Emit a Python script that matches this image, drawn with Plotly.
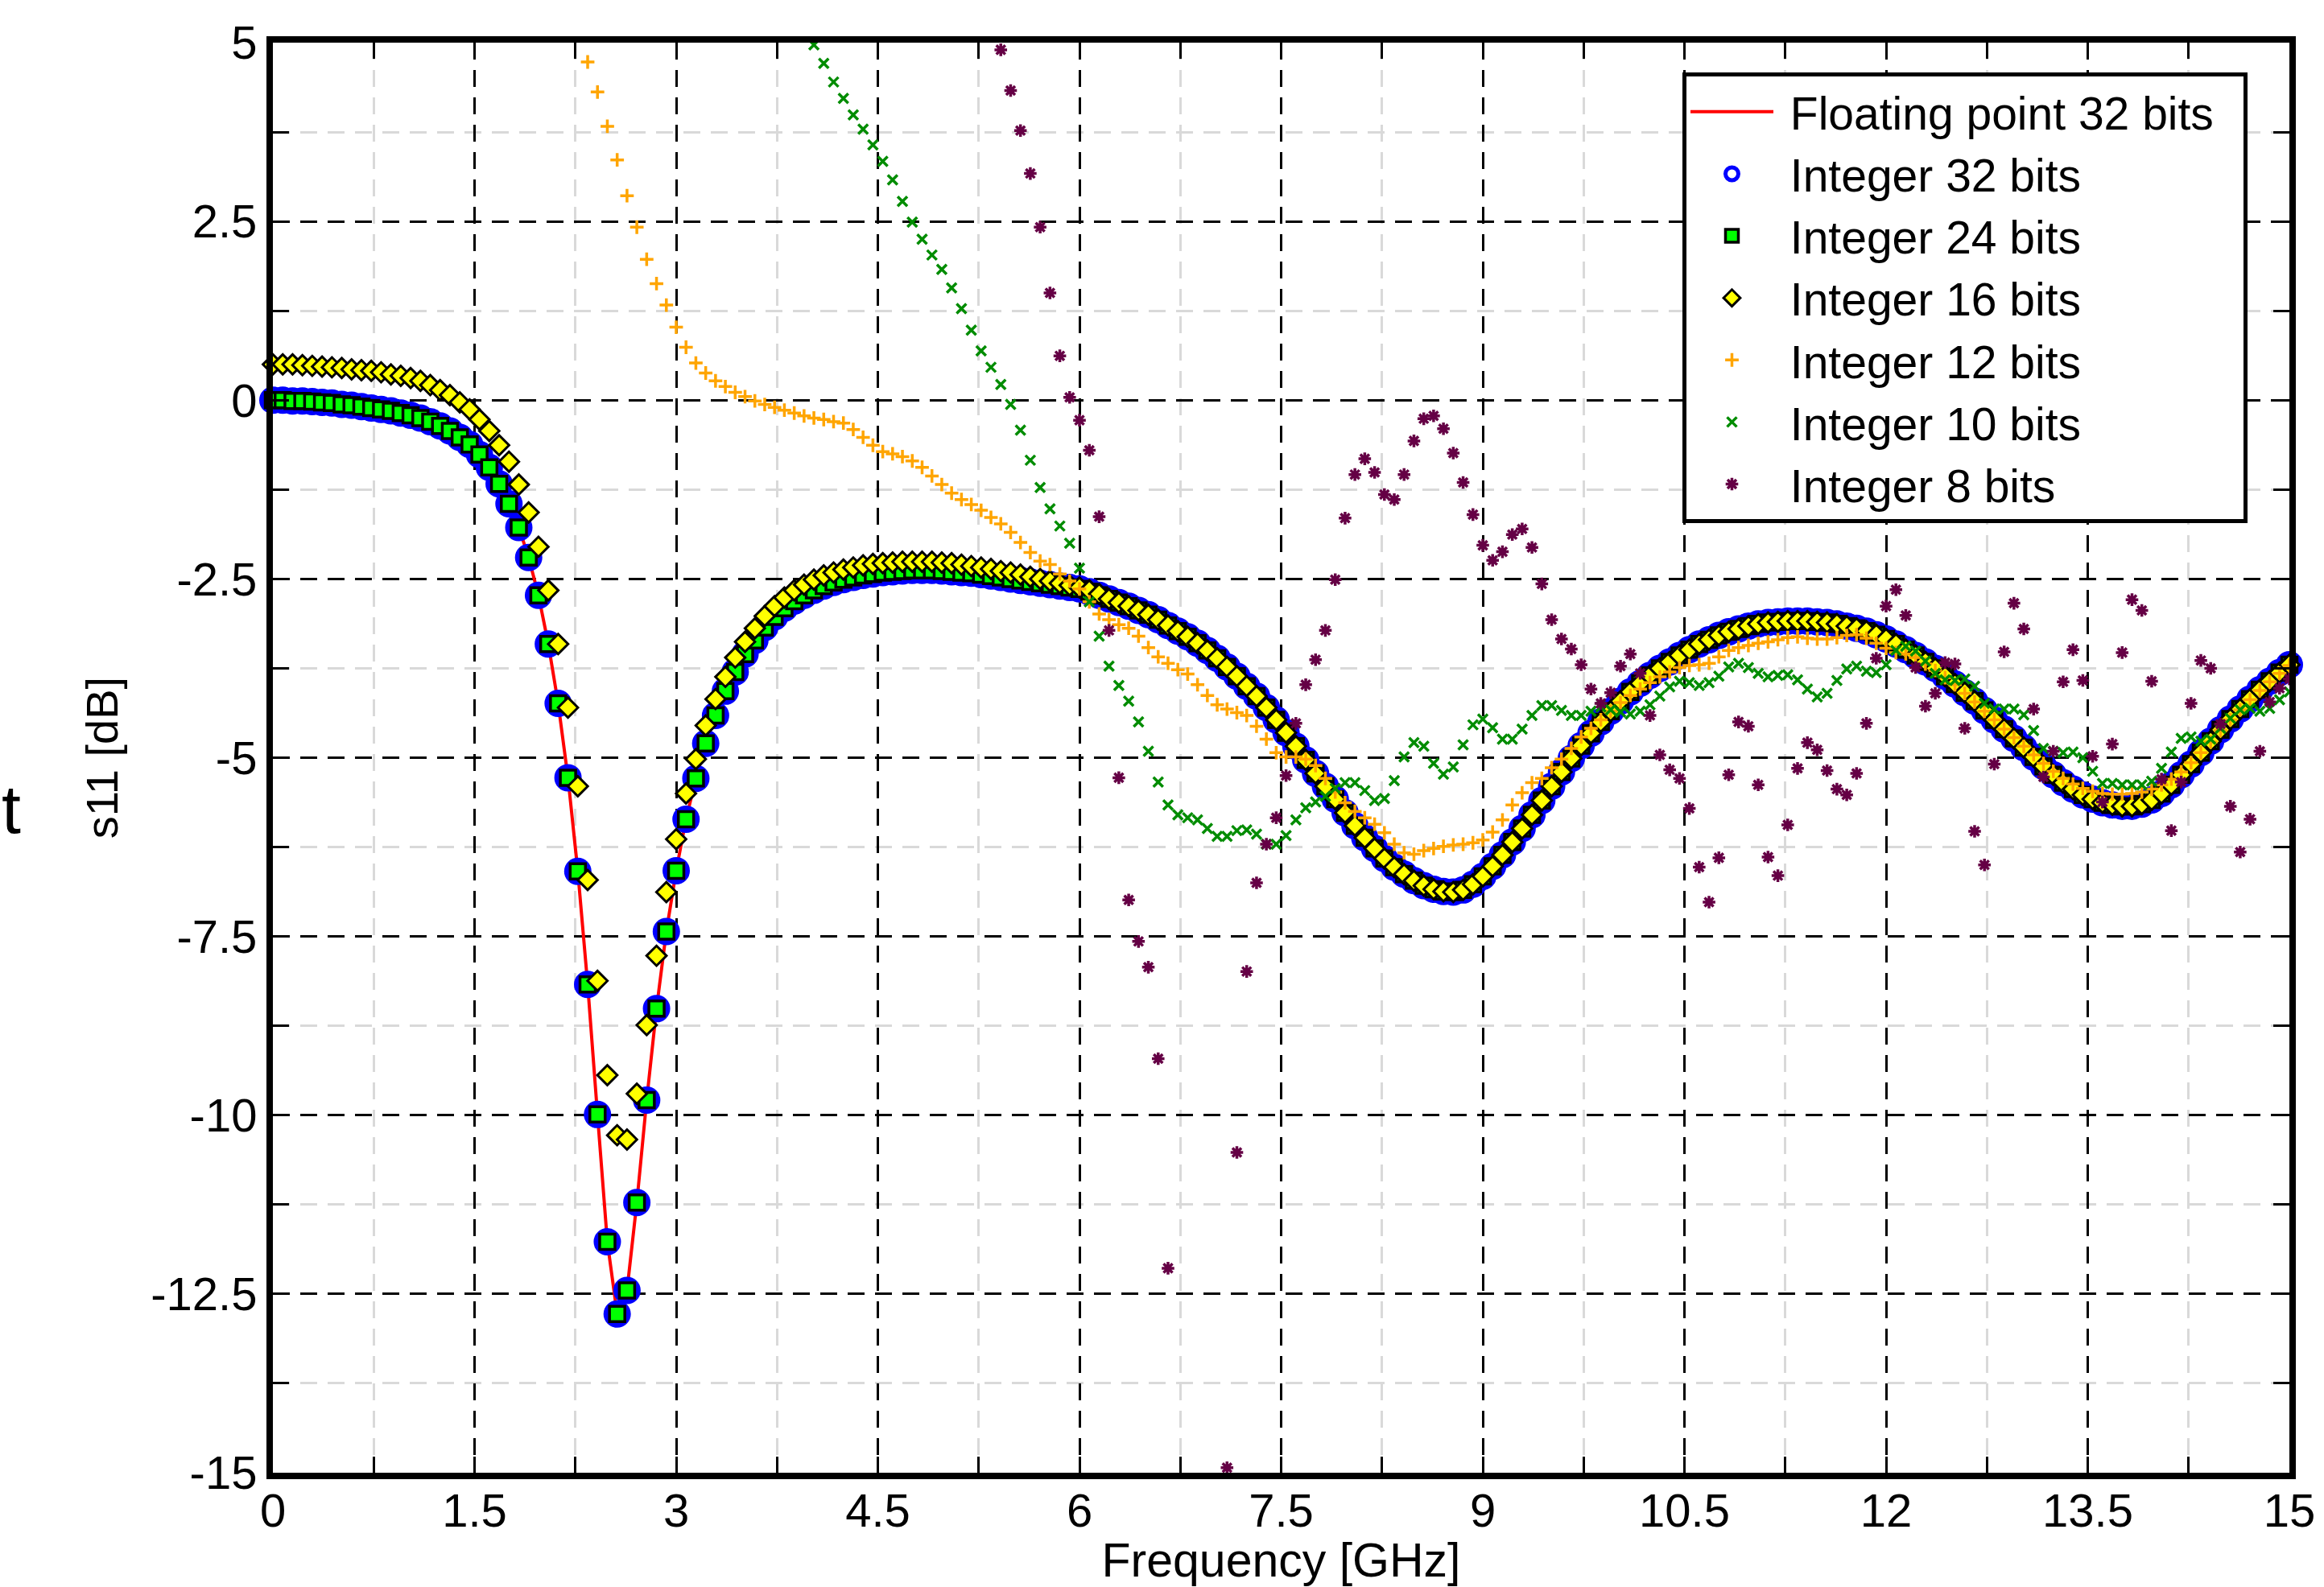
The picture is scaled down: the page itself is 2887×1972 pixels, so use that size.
import plotly.graph_objects as go

# ---------------- data ----------------
# Uniform frequency sampling: 206 points from 0 to 15 GHz
F_START, F_STOP, N_PTS = 0.0, 15.0, 206
freq_ghz = [F_START + (F_STOP - F_START) * i / (N_PTS - 1) for i in range(N_PTS)]

x_tick_vals = [0, 1.5, 3, 4.5, 6, 7.5, 9, 10.5, 12, 13.5, 15]
x_tick_text = ["0", "1.5", "3", "4.5", "6", "7.5", "9", "10.5", "12", "13.5", "15"]
y_tick_vals = [5, 2.5, 0, -2.5, -5, -7.5, -10, -12.5, -15]
y_tick_text = ["5", "2.5", "0", "-2.5", "-5", "-7.5", "-10", "-12.5", "-15"]

series_names = ["Floating point 32 bits", "Integer 32 bits", "Integer 24 bits",
                "Integer 16 bits", "Integer 12 bits", "Integer 10 bits", "Integer 8 bits"]

# Floating point 32 bits (Integer 32 / 24 bits coincide with it)
s11_float32 = [
    0.00, 0.00, -0.01, -0.01, -0.02, -0.03, -0.04, -0.06, -0.07, -0.09,
    -0.11, -0.13, -0.15, -0.18, -0.21, -0.25, -0.30, -0.36, -0.43, -0.52,
    -0.62, -0.76, -0.94, -1.17, -1.45, -1.78, -2.20, -2.73, -3.41, -4.24,
    -5.28, -6.59, -8.17, -9.99, -11.77, -12.78, -12.45, -11.22, -9.79, -8.51,
    -7.43, -6.58, -5.86, -5.29, -4.80, -4.41, -4.07, -3.80, -3.55, -3.36,
    -3.18, -3.03, -2.91, -2.81, -2.73, -2.66, -2.60, -2.55, -2.51, -2.48,
    -2.45, -2.43, -2.41, -2.40, -2.39, -2.38, -2.38, -2.38, -2.39, -2.40,
    -2.41, -2.42, -2.44, -2.46, -2.48, -2.50, -2.52, -2.54, -2.56, -2.58,
    -2.60, -2.62, -2.64, -2.68, -2.73, -2.78, -2.83, -2.88, -2.94, -3.00,
    -3.07, -3.15, -3.23, -3.31, -3.40, -3.50, -3.61, -3.73, -3.86, -4.00,
    -4.14, -4.30, -4.47, -4.65, -4.84, -5.03, -5.22, -5.40, -5.58, -5.77,
    -5.95, -6.12, -6.27, -6.41, -6.53, -6.63, -6.72, -6.79, -6.84, -6.87,
    -6.88, -6.85, -6.77, -6.66, -6.52, -6.36, -6.18, -5.99, -5.80, -5.60,
    -5.40, -5.20, -5.01, -4.83, -4.66, -4.50, -4.35, -4.21, -4.08, -3.96,
    -3.85, -3.75, -3.66, -3.57, -3.49, -3.41, -3.35, -3.29, -3.24, -3.20,
    -3.16, -3.13, -3.11, -3.10, -3.09, -3.09, -3.09, -3.10, -3.11, -3.13,
    -3.16, -3.19, -3.23, -3.28, -3.34, -3.41, -3.49, -3.57, -3.66, -3.75,
    -3.86, -3.97, -4.09, -4.21, -4.34, -4.47, -4.60, -4.73, -4.86, -4.99,
    -5.12, -5.24, -5.35, -5.44, -5.52, -5.58, -5.63, -5.66, -5.68, -5.68,
    -5.65, -5.59, -5.50, -5.38, -5.24, -5.09, -4.93, -4.77, -4.61, -4.46,
    -4.32, -4.18, -4.05, -3.93, -3.81, -3.70,
]
s11_int32 = list(s11_float32)
s11_int24 = list(s11_float32)

# Integer 16 bits: differs from the reference below ~6.2 GHz, coincides above
s11_int16_low = [
    0.50, 0.50, 0.50, 0.49, 0.48, 0.47, 0.46, 0.45, 0.43, 0.42,
    0.41, 0.39, 0.36, 0.34, 0.31, 0.27, 0.21, 0.14, 0.07, -0.03,
    -0.13, -0.27, -0.43, -0.63, -0.86, -1.18, -1.57, -2.05, -2.66, -3.41,
    -4.30, -5.40, -6.71, -8.12, -9.44, -10.28, -10.34, -9.70, -8.74, -7.77,
    -6.88, -6.14, -5.50, -5.02, -4.55, -4.18, -3.87, -3.60, -3.38, -3.19,
    -3.02, -2.88, -2.76, -2.66, -2.58, -2.51, -2.45, -2.41, -2.37, -2.34,
    -2.31, -2.29, -2.28, -2.27, -2.26, -2.26, -2.26, -2.26, -2.27, -2.28,
    -2.30, -2.32, -2.34, -2.36, -2.39, -2.41, -2.44, -2.47, -2.50, -2.53,
    -2.56, -2.59, -2.62, -2.66, -2.71,
]
s11_int16 = s11_int16_low + s11_float32[len(s11_int16_low):]

# Integer 12 bits (above +5 dB before index 32)
INT12_START = 32
s11_int12 = [
    4.73, 4.31, 3.83, 3.36, 2.86, 2.42, 1.97, 1.63, 1.33, 1.02,
    0.74, 0.52, 0.38, 0.27, 0.19, 0.11, 0.05, -0.01, -0.06, -0.10,
    -0.14, -0.18, -0.22, -0.25, -0.27, -0.30, -0.32, -0.41, -0.52, -0.63,
    -0.72, -0.75, -0.79, -0.85, -0.94, -1.06, -1.18, -1.30, -1.39, -1.46,
    -1.54, -1.64, -1.73, -1.85, -1.99, -2.13, -2.25, -2.30, -2.43, -2.53,
    -2.64, -2.82, -2.99, -3.07, -3.14, -3.19, -3.30, -3.46, -3.59, -3.68,
    -3.77, -3.83, -3.98, -4.13, -4.26, -4.32, -4.37, -4.41, -4.56, -4.74,
    -4.93, -4.99, -4.99, -5.02, -5.11, -5.29, -5.48, -5.63, -5.75, -5.84,
    -5.93, -6.05, -6.21, -6.33, -6.35, -6.30, -6.27, -6.24, -6.22, -6.21,
    -6.19, -6.15, -6.04, -5.87, -5.66, -5.49, -5.35, -5.29, -5.14, -5.02,
    -4.87, -4.71, -4.59, -4.47, -4.35, -4.23, -4.13, -4.04, -3.95, -3.87,
    -3.80, -3.74, -3.71, -3.70, -3.68, -3.59, -3.50, -3.46, -3.43, -3.40,
    -3.38, -3.35, -3.32, -3.31, -3.33, -3.34, -3.34, -3.32, -3.29, -3.28,
    -3.33, -3.40, -3.47, -3.53, -3.55, -3.60, -3.69, -3.78, -3.88, -3.98,
    -4.10, -4.22, -4.35, -4.47, -4.60, -4.72, -4.84, -4.96, -5.08, -5.19,
    -5.29, -5.37, -5.43, -5.47, -5.50, -5.51, -5.51, -5.50, -5.48, -5.44,
    -5.38, -5.30, -5.20, -5.07, -4.93, -4.78, -4.62, -4.47, -4.33, -4.19,
    -4.06, -3.94, -3.82, -3.71,
]

# Integer 10 bits (above +5 dB before index 55)
INT10_START = 55
s11_int10 = [
    4.97, 4.71, 4.45, 4.22, 3.99, 3.79, 3.57, 3.34, 3.08, 2.78,
    2.49, 2.25, 2.03, 1.83, 1.57, 1.28, 0.98, 0.69, 0.46, 0.22,
    -0.06, -0.42, -0.84, -1.22, -1.52, -1.76, -2.00, -2.35, -2.82, -3.30,
    -3.72, -3.99, -4.21, -4.50, -4.91, -5.34, -5.66, -5.80, -5.84, -5.87,
    -5.99, -6.10, -6.10, -6.02, -6.01, -6.07, -6.21, -6.21, -6.09, -5.87,
    -5.70, -5.62, -5.54, -5.43, -5.35, -5.35, -5.46, -5.60, -5.57, -5.32,
    -4.99, -4.79, -4.84, -5.08, -5.23, -5.13, -4.82, -4.54, -4.46, -4.58,
    -4.74, -4.74, -4.60, -4.41, -4.27, -4.27, -4.34, -4.41, -4.41, -4.35,
    -4.29, -4.33, -4.36, -4.39, -4.35, -4.26, -4.14, -4.01, -3.93, -3.95,
    -3.99, -3.95, -3.86, -3.73, -3.68, -3.74, -3.82, -3.87, -3.85, -3.84,
    -3.91, -4.04, -4.15, -4.10, -3.92, -3.76, -3.72, -3.79, -3.81, -3.70,
    -3.50, -3.44, -3.51, -3.65, -3.82, -3.91, -3.92, -3.90, -4.00, -4.24,
    -4.32, -4.32, -4.32, -4.40, -4.62, -4.87, -4.91, -4.93, -4.92, -5.00,
    -5.19, -5.36, -5.36, -5.38, -5.38, -5.38, -5.33, -5.15, -4.92, -4.73,
    -4.71, -4.77, -4.74, -4.59, -4.45, -4.33, -4.31, -4.35, -4.31, -4.19,
    -4.08,
]

# Integer 8 bits (above +5 dB before index 74, None = below -15 dB)
INT8_START = 74
s11_int8 = [
    4.90, 4.33, 3.77, 3.17, 2.42, 1.50, 0.62, 0.04, -0.28, -0.70,
    -1.63, -3.22, -5.28, -6.99, -7.57, -7.93, -9.21, -12.14, None, None,
    None, None, None, -14.93, -10.52, -7.99, -6.75, -6.21, -5.84, -5.25,
    -4.52, -3.98, -3.63, -3.22, -2.51, -1.65, -1.04, -0.82, -1.01, -1.32,
    -1.39, -1.04, -0.57, -0.26, -0.22, -0.40, -0.74, -1.15, -1.60, -2.03,
    -2.24, -2.12, -1.88, -1.80, -2.06, -2.57, -3.07, -3.34, -3.48, -3.70,
    -4.04, -4.24, -4.09, -3.72, -3.55, -3.82, -4.41, -4.96, -5.17, -5.29,
    -5.71, -6.53, -7.02, -6.40, -5.24, -4.50, -4.56, -5.38, -6.39, -6.65,
    -5.94, -5.15, -4.79, -4.89, -5.18, -5.44, -5.52, -5.22, -4.52, -3.61,
    -2.88, -2.65, -3.01, -3.74, -4.28, -4.10, -3.67, -3.69, -4.59, -6.03,
    -6.50, -5.09, -3.52, -2.84, -3.20, -4.32, -5.27, -4.91, -3.94, -3.49,
    -3.92, -4.98, -5.62, -4.81, -3.53, -2.79, -2.94, -3.93, -5.30, -6.02,
    -5.34, -4.24, -3.64, -3.75, -4.53, -5.68, -6.32, -5.86, -4.91, -4.22,
    -4.03, -3.90,
]


def xs(start, values):
    return freq_ghz[start:start + len(values)]


NBSP = "\u00a0"  # small gaps around legend labels (spacing only)
legend_labels = [NBSP + n for n in series_names]
legend_labels[0] = legend_labels[0] + NBSP + NBSP

# ---------------- figure ----------------
fig = go.Figure()

fig.add_trace(go.Scatter(
    x=xs(0, s11_float32), y=s11_float32, name=legend_labels[0], mode="lines",
    line=dict(color="#ff0000", width=4)))

fig.add_trace(go.Scatter(
    x=xs(0, s11_int32), y=s11_int32, name=legend_labels[1], mode="markers",
    cliponaxis=False,
    marker=dict(symbol="circle-open", size=24, color="#0000ff",
                line=dict(color="#0000ff", width=10))))

fig.add_trace(go.Scatter(
    x=xs(0, s11_int24), y=s11_int24, name=legend_labels[2], mode="markers",
    cliponaxis=False,
    marker=dict(symbol="square", size=19, color="#00ff00",
                line=dict(color="black", width=3.5))))

fig.add_trace(go.Scatter(
    x=xs(0, s11_int16), y=s11_int16, name=legend_labels[3], mode="markers",
    cliponaxis=False,
    marker=dict(symbol="diamond", size=19, color="#ffff00",
                line=dict(color="black", width=3))))

fig.add_trace(go.Scatter(
    x=xs(INT12_START, s11_int12), y=s11_int12, name=legend_labels[4], mode="markers",
    cliponaxis=False,
    marker=dict(symbol="cross-thin", size=12, color="#ffa500",
                line=dict(color="#ffa500", width=3.5))))

fig.add_trace(go.Scatter(
    x=xs(INT10_START, s11_int10), y=s11_int10, name=legend_labels[5], mode="markers",
    cliponaxis=False,
    marker=dict(symbol="x-thin", size=12, color="#008c00",
                line=dict(color="#008c00", width=3.5))))

fig.add_trace(go.Scatter(
    x=xs(INT8_START, s11_int8), y=s11_int8, name=legend_labels[6], mode="markers",
    cliponaxis=False,
    marker=dict(symbol="asterisk", size=13, color="#650045",
                line=dict(color="#650045", width=3.5))))

GRID_DASH = "21px,13px"
axis_common = dict(
    showline=True, linewidth=8, linecolor="black", mirror="ticks",
    ticks="inside", ticklen=20, tickwidth=3, tickcolor="black",
    showgrid=True, gridcolor="black", gridwidth=3, griddash=GRID_DASH,
    zeroline=False, automargin=False, tickfont=dict(size=58, color="black"),
)
minor_common = dict(
    ticks="inside", ticklen=20, tickwidth=3, tickcolor="black",
    showgrid=True, gridcolor="#d9d9d9", gridwidth=3, griddash=GRID_DASH,
)

fig.update_xaxes(
    range=[0, 15], tickmode="array", tickvals=x_tick_vals, ticktext=x_tick_text,
    ticklabelstandoff=-11,
    minor=dict(tickmode="linear", tick0=0, dtick=0.75, **minor_common),
    title=dict(text="Frequency [GHz]", font=dict(size=59, color="black"), standoff=28),
    **axis_common)
fig.update_yaxes(
    range=[-15, 5], tickmode="array", tickvals=y_tick_vals, ticktext=y_tick_text,
    minor=dict(tickmode="linear", tick0=0, dtick=1.25, **minor_common),
    title=dict(text="s11 [dB]", font=dict(size=56, color="black"), standoff=26),
    **axis_common)

fig.update_layout(
    width=2887, height=1972, autosize=False,
    margin=dict(l=339, r=43, t=53, b=142, pad=0),
    paper_bgcolor="white", plot_bgcolor="white",
    font=dict(family="Liberation Sans, Arial, Helvetica, sans-serif", size=56, color="black"),
    showlegend=True,
    legend=dict(x=0.699, y=0.979, xanchor="left", yanchor="top",
                bgcolor="white", bordercolor="black", borderwidth=5,
                font=dict(size=57, color="black"), itemwidth=103,
                tracegroupgap=0, traceorder="normal"),
    annotations=[dict(text="t", xref="paper", yref="paper", x=-0.1353, y=0.464,
                      xanchor="left", yanchor="middle", showarrow=False,
                      font=dict(size=86, color="black"))],
)

fig.write_html("out.html", config={"displayModeBar": False},
               post_script="document.body.style.margin='0';")
